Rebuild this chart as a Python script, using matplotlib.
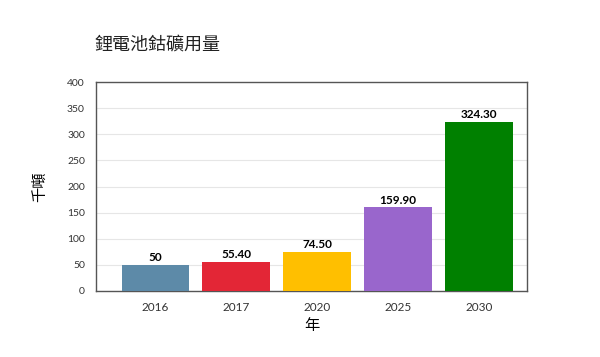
import matplotlib.pyplot as plt

years = ['2016', '2017', '2020', '2025', '2030']
values = [50, 55.4, 74.5, 159.9, 324.3]
labels = ['50', '55.40', '74.50', '159.90', '324.30']
colors = ['#5d8aa8', '#e32636', '#ffbf00', '#9966cc', '#008000']

plt.rcParams['font.family'] = ['Lato', 'Noto Sans CJK TC', 'DejaVu Sans']

fig = plt.figure(figsize=(6, 3.57), dpi=100)
ax = fig.add_axes([0.16, 0.185, 0.718, 0.585])

x = range(len(years))
bars = ax.bar(x, values, width=0.83, color=colors, zorder=3)
for b, t in zip(bars, labels):
    ax.text(b.get_x() + b.get_width() / 2, b.get_height() + 3, t,
            ha='center', va='bottom', fontsize=8.5, fontweight='bold')

ax.set_xlim(-0.73, 4.59)
ax.set_ylim(0, 400)
ax.set_yticks(range(0, 401, 50))
ax.set_xticks(list(x))
ax.set_xticklabels(years)
ax.tick_params(axis='y', length=0, labelsize=7.5, pad=8, colors='#333333')
ax.tick_params(axis='x', length=0, labelsize=8.5, pad=8, colors='#333333')
ax.grid(axis='y', color='#e6e6e6', linewidth=0.8, zorder=0)
for s in ax.spines.values():
    s.set_color('#555555')
    s.set_linewidth(1)

ax.set_ylabel('千噸', fontsize=11, labelpad=14, family=['Noto Sans CJK TC'])
ax.set_xlabel('年', fontsize=11, labelpad=3, family=['Noto Sans CJK TC'])
fig.text(0.158, 0.875, '鋰電池鈷礦用量', fontsize=13, family=['Noto Sans CJK TC'],
         ha='left', va='center', color='#222222')

fig.savefig('out.png', dpi=100)
